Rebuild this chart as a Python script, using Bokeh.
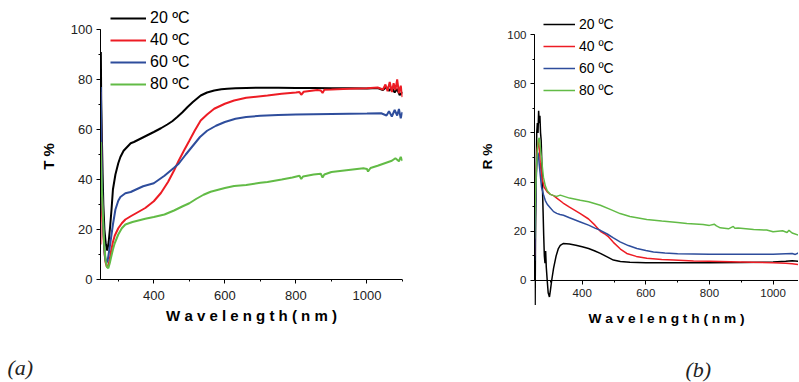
from bokeh.plotting import figure
from bokeh.layouts import row
from bokeh.models import Range1d, SingleIntervalTicker, Legend, LegendItem, Span, Title
from bokeh.embed import file_html
from bokeh.resources import INLINE

# ---------------- data ----------------
series_labels = ["20 \u00baC", "40 \u00baC", "60 \u00baC", "80 \u00baC"]
colors = ["#000000", "#ed1c24", "#2e4d9c", "#62bb46"]

# (a) transmittance T %
t20_wl = [250, 251, 252, 254, 256, 258, 261, 265, 269, 273, 277, 281, 285, 292, 300, 306, 315, 325, 335, 344, 358, 372,
          386, 400, 420, 438, 452, 466, 480, 495, 510, 532, 550, 570, 590, 607, 630, 660, 700, 750, 800, 850, 900, 950,
          1000, 1030, 1045, 1055, 1062, 1070, 1078, 1085, 1092, 1100]
t20 = [86, 91, 72, 56, 42, 30, 20, 14, 11.6, 15, 21, 28, 36, 42, 46.5, 49, 51.5, 53, 54.5, 55, 56, 57,
       58, 59, 60.5, 62, 63.3, 65, 66.8, 69, 71, 73.6, 74.8, 75.6, 76.1, 76.3, 76.5, 76.6, 76.7, 76.7, 76.6, 76.6, 76.5, 76.5,
       76.4, 76.6, 75.8, 77, 75.5, 76.8, 74.8, 76.2, 73.8, 75]

t40_wl = [250, 251, 252, 254, 256, 258, 261, 264, 268, 272, 276, 280, 285, 290, 300, 310, 320, 335, 350, 376, 400, 420,
          440, 457, 470, 485, 500, 515, 532, 550, 570, 600, 626, 660, 720, 760, 800, 810, 815, 822, 860, 870, 875, 880,
          900, 950, 1000, 1030, 1045, 1052, 1058, 1064, 1070, 1075, 1080, 1085, 1090, 1095, 1100]
t40 = [14, 75, 55, 36, 26, 18, 11, 7, 5, 5.5, 8, 11.5, 15, 17.5, 20.5, 22.5, 24, 25.3, 26.5, 28.6, 31.3, 34.6,
       39, 43.6, 47.5, 51.6, 55.5, 59.5, 63.6, 66, 68.3, 70.3, 71.6, 72.7, 73.6, 74.3, 74.8, 75, 73.9, 75.1, 75.8, 75.6, 74.6, 75.9,
       76, 76.3, 76.5, 76.8, 76, 78, 75.3, 79, 75, 78.5, 75.8, 80, 74.5, 77.5, 73]

t60_wl = [250, 251, 252, 254, 256, 259, 262, 266, 270, 275, 280, 285, 292, 300, 306, 320, 335, 350, 370, 400, 430, 457,
          470, 490, 510, 530, 550, 575, 600, 630, 660, 700, 750, 800, 850, 900, 950, 1000, 1040, 1055, 1062, 1070, 1078,
          1085, 1090, 1095, 1100]
t60 = [55, 77, 60, 40, 28, 18, 10, 6.5, 7.5, 12, 17, 22, 28, 31.5, 33, 34.5, 35, 36, 37.3, 38.5, 41.5, 44.7,
       46.3, 50, 53.5, 57, 59.5, 61.5, 63, 64.3, 65, 65.5, 65.8, 66, 66.1, 66.2, 66.3, 66.4, 66.5, 65.6, 67.3, 65.2, 67.8,
       65.6, 68.2, 64.5, 67]

t80_wl = [250, 251, 252, 254, 257, 260, 264, 268, 272, 276, 280, 285, 290, 300, 310, 320, 340, 376, 400, 430, 457, 480,
          500, 520, 540, 560, 600, 626, 660, 700, 720, 760, 790, 810, 815, 820, 850, 870, 875, 880, 900, 930, 960, 990,
          1000, 1003, 1010, 1030, 1050, 1070, 1080, 1090, 1095, 1100]
t80 = [33, 55, 45, 35, 25, 15, 8, 5, 4.5, 6.5, 9, 12, 14.5, 18, 20.5, 22, 23, 24.3, 25, 26, 27.6, 29.2,
       30.5, 32.3, 33.9, 35.1, 36.6, 37.4, 37.8, 38.7, 39, 40, 40.8, 41.5, 40.2, 41.2, 42, 42.3, 40.8, 42, 43, 43.5, 44, 44.5,
       44.2, 43.2, 44.6, 45.5, 46.5, 47.5, 48.5, 47.3, 49, 47.5]

# (b) reflectance R %
r20_wl = [250, 251, 252, 253, 255, 257, 259, 261, 263, 265, 267, 269, 271, 273, 275, 277, 279, 281, 283, 285, 287, 290,
          293, 297, 300, 304, 310, 318, 325, 331, 340, 360, 380, 400, 420, 440, 457, 480, 498, 520, 550, 600, 700, 800,
          900, 1000, 1040, 1060, 1080, 1100]
r20 = [5, 27, -10, 15, 40, 60, 64, 60, 69, 64, 67, 60, 57, 48, 38, 28, 18, 10, 7, 12, 5.5, 0,
       -5, -6.7, -4, 0, 5, 10, 13, 14.3, 15, 14.8, 14.3, 13.7, 13, 12, 11, 9.5, 8.3, 7.7, 7.4, 7.2, 7.2, 7.2,
       7.3, 7.5, 7.8, 8, 7.8, 8]

r40_wl = [250, 251, 252, 254, 256, 258, 260, 262, 264, 266, 268, 271, 275, 280, 290, 300, 310, 320, 340, 360, 394, 420,
          440, 457, 470, 483, 498, 520, 540, 570, 603, 650, 687, 750, 800, 900, 1000, 1040, 1060, 1080, 1100]
r40 = [10, 42, 30, 40, 45, 52, 55, 57, 55, 52, 48, 44, 41, 38, 36, 35, 34.5, 33.5, 31.5, 29.8, 27.2, 25,
       22.5, 20, 19, 17.7, 15.5, 12.8, 11, 9.8, 9, 8.5, 8.3, 7.9, 7.8, 7.5, 7.2, 7, 6.8, 6.5, 6.8]

r60_wl = [250, 251, 253, 255, 257, 259, 261, 263, 265, 268, 272, 278, 284, 290, 300, 310, 320, 330, 341, 360, 394, 420,
          440, 457, 480, 498, 519, 545, 572, 600, 624, 660, 700, 800, 900, 1000, 1040, 1060, 1070, 1080, 1100]
r60 = [8, 15, 30, 40, 46, 50, 52, 50, 47, 43, 38, 35, 32.5, 31, 29.5, 28, 27.3, 26.8, 26.5, 25.5, 23.8, 22.5,
       21.3, 20.4, 18.8, 17.3, 15.7, 14.2, 13, 12.2, 11.6, 11.2, 10.9, 10.7, 10.7, 10.7, 10.9, 11, 10.6, 11.2, 11]

r80_wl = [250, 251, 253, 255, 257, 259, 261, 263, 265, 267, 270, 274, 278, 284, 290, 300, 310, 320, 331, 360, 394, 420,
          457, 490, 519, 550, 603, 650, 700, 729, 780, 800, 815, 822, 834, 860, 875, 880, 890, 939, 980, 1000, 1030,
          1044, 1050, 1060, 1080, 1100]
r80 = [17, 25, 35, 42, 48, 53, 56, 57.5, 58, 56, 52, 47, 42, 38.5, 36.5, 35, 34.5, 34.2, 34.7, 33.5, 32.6, 32,
       30.6, 28.8, 27.2, 26, 24.8, 24.2, 23.6, 23.2, 22.8, 22.4, 22.9, 22.2, 21.4, 21, 22, 21.2, 21.3, 20.7, 20.5, 19.8, 20.2,
       19.5, 20.4, 19.3, 18.4, 18.8]

t_series = [(t20_wl, t20), (t40_wl, t40), (t60_wl, t60), (t80_wl, t80)]
r_series = [(r20_wl, r20), (r40_wl, r40), (r60_wl, r60), (r80_wl, r80)]

x_title = "W a v e l e n g t h ( n m )"
FONT = "Liberation Sans"
SERIF = "Liberation Serif"

FIG_H = 382
TOP = 5       # frame top (frame reaches up so the legend is inside it)
BOTTOM = 75   # border below frame


def make_fig(width, mbl, mbr, xr, yr, zero_off, tick_fs, title_fs):
    p = figure(width=width, height=FIG_H, x_range=Range1d(*xr), y_range=Range1d(*yr),
               output_backend="svg", toolbar_location=None,
               min_border_left=mbl, min_border_right=mbr, min_border_top=TOP, min_border_bottom=BOTTOM)
    p.outline_line_color = None
    p.grid.visible = False
    p.background_fill_color = "white"
    p.border_fill_color = "white"
    p.xaxis.ticker = SingleIntervalTicker(interval=200, num_minor_ticks=2)
    p.yaxis.ticker = SingleIntervalTicker(interval=20, num_minor_ticks=2)
    for ax in p.axis:
        ax.axis_line_color = "black"
        ax.axis_line_width = 1
        ax.major_tick_line_color = "black"
        ax.minor_tick_line_color = "black"
        ax.major_tick_in = 0
        ax.major_tick_out = 4
        ax.minor_tick_in = 0
        ax.minor_tick_out = 2
        ax.major_label_text_font = FONT
        ax.major_label_text_color = "#222222"
        ax.major_label_text_font_size = tick_fs
        ax.axis_label_text_font = FONT
        ax.axis_label_text_font_style = "bold"
        ax.axis_label_text_color = "black"
        ax.axis_label_text_font_size = title_fs
    p.yaxis.bounds = (0, 100)
    # the x axis sits at value 0, which lies zero_off pixels above the frame bottom
    p.xaxis.axis_line_color = None
    p.xaxis.major_tick_in = zero_off
    p.xaxis.major_tick_out = -(zero_off - 4)
    p.xaxis.minor_tick_in = zero_off
    p.xaxis.minor_tick_out = -(zero_off - 2)
    p.add_layout(Span(location=0, dimension="width", line_color="black", line_width=1))
    p.xaxis.axis_label = x_title
    return p


def add_legend(p, renderers, vx, vy, glyph_w, fs):
    items = [LegendItem(label=lab, renderers=[r]) for lab, r in zip(series_labels, renderers)]
    leg = Legend(items=items, location=(vx, vy), orientation="vertical",
                 padding=0, margin=0, spacing=0, label_height=22, glyph_height=22,
                 glyph_width=glyph_w, label_standoff=4, border_line_color=None,
                 background_fill_alpha=0, label_text_font=FONT, label_text_font_size=fs,
                 label_text_color="black")
    p.add_layout(leg)


def add_tag(p, text, offset):
    # a thin spacer panel, then the panel tag at the very bottom
    p.add_layout(Title(text=" ", text_font_size="1px", standoff=23), "below")
    p.add_layout(Title(text=text, align="left", offset=offset, standoff=0,
                       text_font=SERIF, text_font_style="italic", text_font_size="22px",
                       text_color="#222222"), "below")


# ---------------- panel (a) ----------------
p1 = make_fig(470, 100, 68, (250, 1100), (-11.2, 109.6), 28, "13px", "15px")
r1 = [p1.line(x, y, line_color=c, line_width=2) for (x, y), c in zip(t_series, colors)]
p1.yaxis.axis_label = "T %"
p1.xaxis.major_label_standoff = 7
p1.xaxis.axis_label_standoff = 4
p1.yaxis.major_label_standoff = 4
p1.yaxis.axis_label_standoff = 11
add_legend(p1, r1, 10, 212, 36, "16px")
add_tag(p1, "(a)", -93)

# ---------------- panel (b) ----------------
p2 = make_fig(328, 64, 0, (250, 1080), (-10.976, 111.79), 27, "11.5px", "13.7px")
r2 = [p2.line(x, y, line_color=c, line_width=1.5) for (x, y), c in zip(r_series, colors)]
p2.yaxis.axis_label = "R %"
p2.xaxis.major_label_standoff = 4
p2.xaxis.axis_label_standoff = 11
p2.yaxis.major_label_standoff = 4
p2.yaxis.axis_label_standoff = 9
add_legend(p2, r2, 9, 206, 32, "14px")
add_tag(p2, "(b)", 151)

layout = row(p1, p2, spacing=0)
open("out.html", "w").write(file_html(layout, INLINE))
